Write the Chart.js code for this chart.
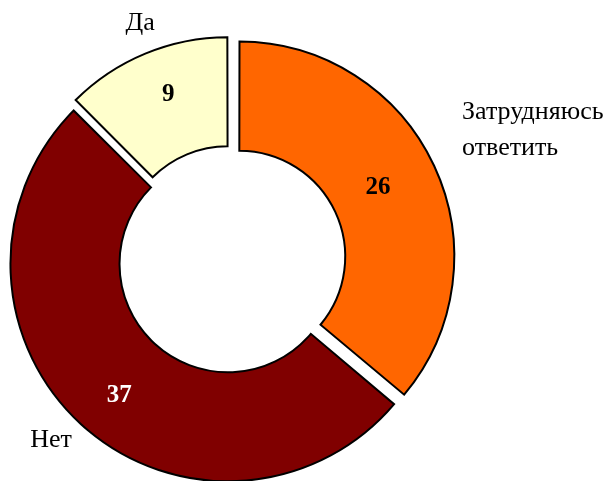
<!DOCTYPE html>
<html>
<head>
<meta charset="utf-8">
<script src="https://cdn.jsdelivr.net/npm/chart.js@4/dist/chart.umd.min.js"></script>
<style>
  html, body { margin: 0; padding: 0; background: #fff; }
  #wrap { width: 609px; height: 481px; }
</style>
</head>
<body>
<div id="wrap"><canvas id="chart"></canvas></div>
<script>
// данные
const categories = ['Затрудняюсь ответить', 'Нет', 'Да'];
const values = [26, 37, 9];
const sliceColors = ['#FF6600', '#800000', '#FFFFCC'];
const valueColors = ['#000000', '#FFFFFF', '#000000'];

// подписи категорий и значений рисуем сами
const labelPlugin = {
    id: 'sliceLabels',
    afterDatasetsDraw(chart) {
        const ctx = chart.ctx;
        const arcs = chart.getDatasetMeta(0).data;
        const valueShift = [-5, 5, 9];
        const valueTurn = [-1.7, -2.7, 1.9]; // градусы
        ctx.save();
        arcs.forEach(function(arc, i) {
            const mid = (arc.startAngle + arc.endAngle) / 2;
            const cos = Math.cos(mid), sin = Math.sin(mid);
            // значение в середине сектора (с учётом выноса)
            const a = mid + valueTurn[i] * Math.PI / 180;
            const r = (arc.innerRadius + arc.outerRadius) / 2 + 11 + valueShift[i];
            ctx.font = 'bold 25px "Liberation Serif"';
            ctx.fillStyle = valueColors[i];
            ctx.textAlign = 'center';
            ctx.textBaseline = 'middle';
            ctx.fillText(values[i], arc.x + Math.cos(a) * r, arc.y + Math.sin(a) * r + 1);

            // название категории снаружи
            const ro = arc.outerRadius + 43;
            const x = arc.x + cos * ro;
            const y = arc.y + sin * ro;
            ctx.font = '26px "Liberation Serif"';
            ctx.fillStyle = '#000';
            ctx.textBaseline = 'alphabetic';
            if (i === 0) {
                ctx.textAlign = 'left';
                ctx.fillText('Затрудняюсь', x - 1, y - 33);
                ctx.fillText('ответить', x - 1, y + 3);
            } else if (i === 1) {
                ctx.textAlign = 'center';
                ctx.fillText(categories[i], x - 7, y - 2);
            } else {
                ctx.textAlign = 'center';
                ctx.fillText(categories[i], x + 7, y + 6);
            }
        });
        ctx.restore();
    }
};

new Chart(document.getElementById('chart'), {
    type: 'doughnut',
    data: {
        labels: categories,
        datasets: [{
            data: values,
            backgroundColor: sliceColors,
            borderColor: '#000000',
            borderWidth: 2,
            borderJoinStyle: 'miter',
            offset: [36, 18, 34]
        }]
    },
    options: {
        responsive: true,
        maintainAspectRatio: false,
        animation: false,
        events: [],
        radius: 213,
        cutout: '48.8%',
        layout: {
            padding: { left: 0, right: 147, top: 40, bottom: 0 }
        },
        plugins: {
            legend: { display: false },
            tooltip: { enabled: false }
        }
    },
    plugins: [labelPlugin]
});
</script>
</body>
</html>
